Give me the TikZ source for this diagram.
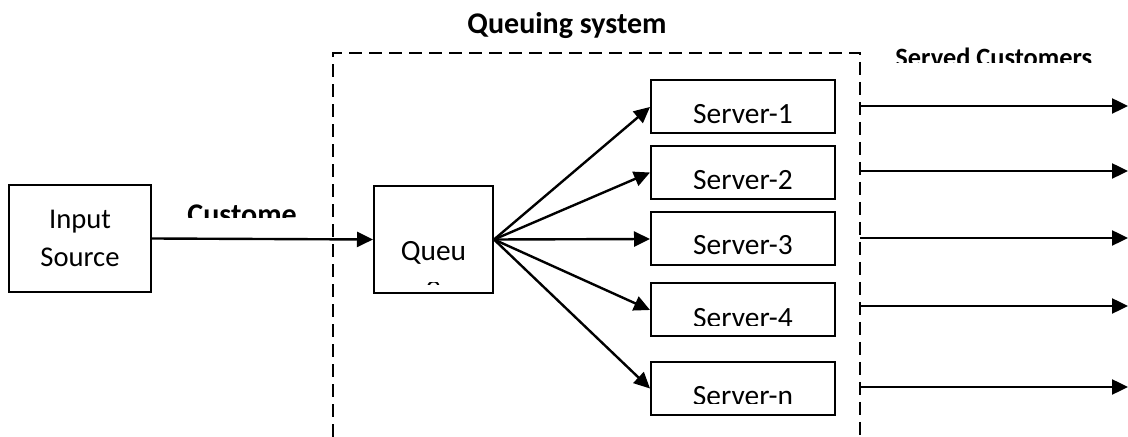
\documentclass[tikz,border=0pt]{standalone}
\usepackage{fontspec}
\setmainfont{Carlito}
\usetikzlibrary{arrows.meta}

\begin{document}
\begin{tikzpicture}[x=0.5pt,y=0.5pt]
\tikzstyle{every node}+=[inner sep=0pt]
\tikzstyle{box}=[draw,line width=1pt,rectangle]
\tikzstyle{srv}=[box,minimum width=92pt,minimum height=26.5pt]
\tikzstyle{txt}=[font=\fontsize{14.7}{19}\selectfont,anchor=base]
\tikzstyle{head}=[font=\bfseries\fontsize{13.2}{15}\selectfont,anchor=base]
\tikzstyle{flow}=[line width=1.2pt,-{Triangle[length=8pt,width=7.5pt]}]
\tikzstyle{border}=[line width=0.75pt,dash pattern=on 6.5pt off 3.5pt]
\useasboundingbox (0,0) rectangle (1128,-437);
% the queuing system
\draw [border] (333,-437) -- (333,-53) -- (860,-53) -- (860,-437);
\node [head,font=\bfseries\fontsize{15}{17}\selectfont] (sysname) at (567,-34) {Queuing system};
% source and queue
\node [box,minimum width=71pt,minimum height=53.5pt,align=center,
  font=\fontsize{14.3}{19}\selectfont] (src) at (80,-238.5) {Input\\Source};
\node [box,minimum width=59.5pt,minimum height=53.5pt] (queue) at (433.5,-239.5) {};
\node [txt] (qname) at (433.5,-261) {Queu};
\begin{scope}
\clip (400,-282.5) rectangle (470,-284.5);
\node [txt] (qrest) at (433.5,-296) {e};
\end{scope}
\draw [flow] (src.east) -- (queue.west);
\begin{scope}
\clip (150,-195) rectangle (320,-218);
\node [head,anchor=base west,font=\bfseries\fontsize{15}{17}\selectfont] (arrive) at (187,-225) {Custome};
\end{scope}
% servers
\node [srv] (s1) at (743,-107) {};
\node [srv] (s2) at (743,-172.5) {};
\node [srv] (s3) at (743,-239) {};
\node [srv] (s4) at (743,-310) {};
\node [srv] (sn) at (743,-388.5) {};
\node [txt] (t1) at (743,-124) {Server-1};
\node [txt] (t3) at (743,-255) {Server-3};
\begin{scope}
\clip (660,-150) rectangle (830,-188.5);
\node [txt] (t2) at (743,-190) {Server-2};
\end{scope}
\begin{scope}
\clip (660,-290) rectangle (830,-325.5);
\node [txt] (t4) at (743,-328) {Server-4};
\end{scope}
\begin{scope}
\clip (660,-370) rectangle (830,-403.5);
\node [txt] (tn) at (743,-406) {Server-n};
\end{scope}
\foreach \s in {s1,s2,s3,s4,sn}
  \draw [flow] (queue.east) -- (\s.west);
% departures
\begin{scope}
\clip (870,-40) rectangle (1128,-63);
\node [head,anchor=base west] (served) at (895,-67) {Served Customers};
\end{scope}
\foreach \y/\n in {106/1,171/2,238/3,306/4,387/5} {
  \coordinate (o\n) at (860,-\y);
  \coordinate (e\n) at (1128,-\y);
  \draw [flow] (o\n) -- (e\n);
}
\end{tikzpicture}
\end{document}
